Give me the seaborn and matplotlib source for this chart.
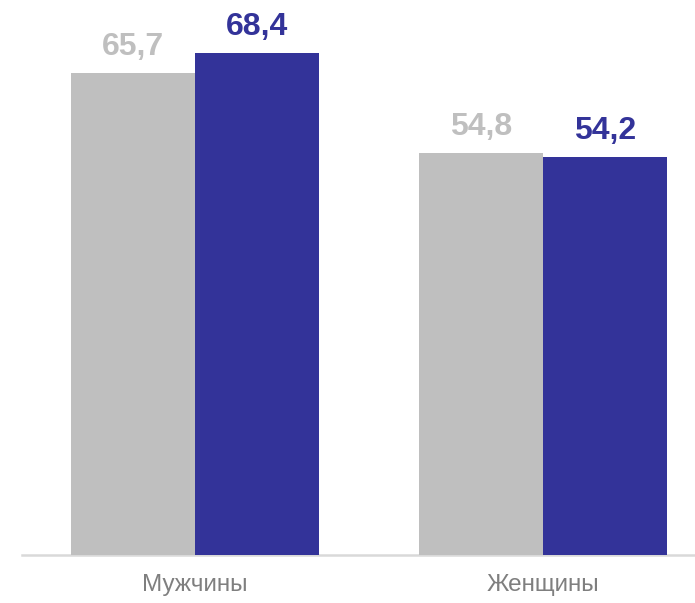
import pandas as pd
import matplotlib.pyplot as plt
import seaborn as sns

# Chart data
categories = ['Мужчины', 'Женщины']
series_names = ['Серия 1', 'Серия 2']
series_1 = [65.7, 54.8]
series_2 = [68.4, 54.2]

bar_colors = ['#BFBFBF', '#333399']

# Long-form table for seaborn
df = pd.DataFrame({
    'Категория': categories * 2,
    'Серия': [series_names[0]] * len(categories) + [series_names[1]] * len(categories),
    'Значение': series_1 + series_2,
})

sns.set_style('white')
plt.rcParams['font.family'] = ['Liberation Sans', 'DejaVu Sans']

fig = plt.figure(figsize=(6.95, 6.03), dpi=100)
ax = fig.add_axes([22 / 695, 48 / 603, 673 / 695, 555 / 603])

sns.barplot(
    data=df, x='Категория', y='Значение', hue='Серия',
    palette=bar_colors, width=0.713, gap=0, legend=False,
    saturation=1, linewidth=0, edgecolor='none', ax=ax, zorder=3
)

# Value labels above bars
for container, color in zip(ax.containers, bar_colors):
    for bar in container:
        h = bar.get_height()
        ax.annotate(
            f'{h:.1f}'.replace('.', ','),
            xy=(bar.get_x() + bar.get_width() / 2, h),
            xytext=(0, 13), textcoords='offset points',
            ha='center', va='baseline',
            fontsize=23, fontweight='bold', color=color
        )

# Axes styling
ax.set_xlim(-0.498, 1.437)
ax.set_ylim(0, 75.6)
ax.set_xlabel('')
ax.set_ylabel('')
ax.set_yticks([])
ax.tick_params(axis='x', length=0, pad=13.5, labelsize=17.5, labelcolor='#7F7F7F')
for side in ['top', 'right', 'left']:
    ax.spines[side].set_visible(False)
ax.spines['bottom'].set_color('#D9D9D9')
ax.spines['bottom'].set_linewidth(1.8)

plt.savefig('out.png', dpi=100)
